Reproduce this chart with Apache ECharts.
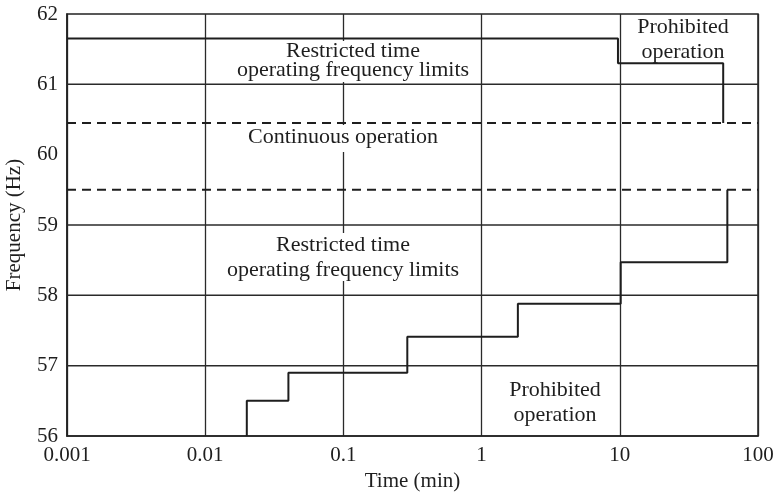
<!DOCTYPE html>
<html>
<head>
<meta charset="utf-8">
<title>Frequency operating limits</title>
<script src="https://cdn.jsdelivr.net/npm/echarts@6/dist/echarts.min.js"></script>
<style>
  html, body { margin: 0; padding: 0; background: #fff; }
  #chart { width: 775px; height: 498px; }
</style>
</head>
<body>
<div id="chart"></div>
<script>
// Axis ranges and tick labels
const timeMin = 0.001;
const timeMax = 100;
const freqMin = 56;
const freqMax = 62;
const xTickLabels = ['0.001', '0.01', '0.1', '1', '10', '100'];

// Solid horizontal reference lines (Hz)
const gridFreqs = [57, 58, 59, 61];

// Continuous-operation band limits (Hz)
const bandFreqs = [60.45, 59.5];

// Underfrequency limit: step start times (min) and the level reached at each step (Hz)
const lowStepTimes = [0.02, 0.04, 0.29, 1.83, 10.15, 60];
const lowStepFreqs = [56.5, 56.9, 57.41, 57.88, 58.47, 59.5];

// Overfrequency limit: level held until each step time
const highStepTimes = [9.7, 56];
const highStepFreqs = [61.65, 61.3, 60.45];

const ink = '#1e1e1e';
const serif = '"Liberation Serif", "DejaVu Serif", serif';

// Underfrequency staircase, rising from the bottom edge
function lowStepPoints() {
  const pts = [[lowStepTimes[0], freqMin]];
  lowStepTimes.forEach((t, i) => {
    pts.push([t, lowStepFreqs[i]]);
    if (i + 1 < lowStepTimes.length) pts.push([lowStepTimes[i + 1], lowStepFreqs[i]]);
  });
  return pts;
}

// Overfrequency staircase, starting at the left edge
function highStepPoints() {
  const pts = [[timeMin, highStepFreqs[0]]];
  highStepTimes.forEach((t, i) => {
    pts.push([t, highStepFreqs[i]]);
    pts.push([t, highStepFreqs[i + 1]]);
  });
  return pts;
}

const series = [];
gridFreqs.forEach(f => {
  series.push({
    type: 'line', silent: true, symbol: 'none', z: 2,
    lineStyle: { color: '#2a2a2a', width: 1.5 },
    data: [[timeMin, f], [timeMax, f]]
  });
});
bandFreqs.forEach(f => {
  series.push({
    type: 'line', silent: true, symbol: 'none', z: 2,
    lineStyle: { color: ink, width: 2, type: [9, 6] },
    data: [[timeMin, f], [timeMax, f]]
  });
});
series.push({
  type: 'line', silent: true, symbol: 'none', z: 3,
  lineStyle: { color: ink, width: 2 },
  data: lowStepPoints()
});
series.push({
  type: 'line', silent: true, symbol: 'none', z: 3,
  lineStyle: { color: ink, width: 2 },
  data: highStepPoints()
});

// Region annotations: white boxes mask the vertical grid line behind the text
function box(x, y, w, h) {
  return { type: 'rect', z: 10, silent: true, shape: { x, y, width: w, height: h }, style: { fill: '#fff' } };
}
function label(text, x, y) {
  return {
    type: 'text', z: 11, silent: true, x, y,
    style: { text, font: '22px ' + serif, fill: ink, align: 'center', verticalAlign: 'middle' }
  };
}

const graphics = [
  box(236, 41, 236, 41),
  label('Restricted time', 353, 51),
  label('operating frequency limits', 353, 70),
  box(243, 125, 200, 27),
  label('Continuous operation', 343, 137),
  box(224, 233, 240, 48),
  label('Restricted time', 343, 245),
  label('operating frequency limits', 343, 270),
  label('Prohibited', 683, 27),
  label('operation', 683, 52),
  label('Prohibited', 555, 390),
  label('operation', 555, 415)
];

const chart = echarts.init(document.getElementById('chart'), null, { renderer: 'canvas' });
chart.setOption({
  animation: false,
  backgroundColor: '#fff',
  grid: {
    left: 67, right: 17, top: 14, bottom: 62,
    outerBoundsMode: 'none', containLabel: false,
    show: true, borderColor: '#222', borderWidth: 1.5, backgroundColor: 'transparent'
  },
  xAxis: {
    type: 'log', logBase: 10, min: timeMin, max: timeMax,
    name: 'Time (min)', nameLocation: 'middle', nameGap: 32,
    nameTextStyle: { fontFamily: serif, fontSize: 21, color: ink },
    axisLine: { show: true, lineStyle: { color: '#222', width: 1.5 } },
    axisTick: { show: false },
    minorTick: { show: false },
    axisLabel: {
      fontFamily: serif, fontSize: 21, color: ink, margin: 9,
      formatter: v => xTickLabels[Math.round(Math.log10(v) - Math.log10(timeMin))]
    },
    splitLine: { show: true, lineStyle: { color: '#2a2a2a', width: 1.3 } }
  },
  yAxis: {
    type: 'value', min: freqMin, max: freqMax, interval: 1,
    name: 'Frequency (Hz)', nameLocation: 'middle', nameGap: 42,
    nameTextStyle: { fontFamily: serif, fontSize: 21, color: ink },
    axisLine: { show: true, lineStyle: { color: '#222', width: 1.5 } },
    axisTick: { show: false },
    axisLabel: { fontFamily: serif, fontSize: 21, color: ink, margin: 9 },
    splitLine: { show: false }
  },
  series,
  graphic: graphics
});
</script>
</body>
</html>
